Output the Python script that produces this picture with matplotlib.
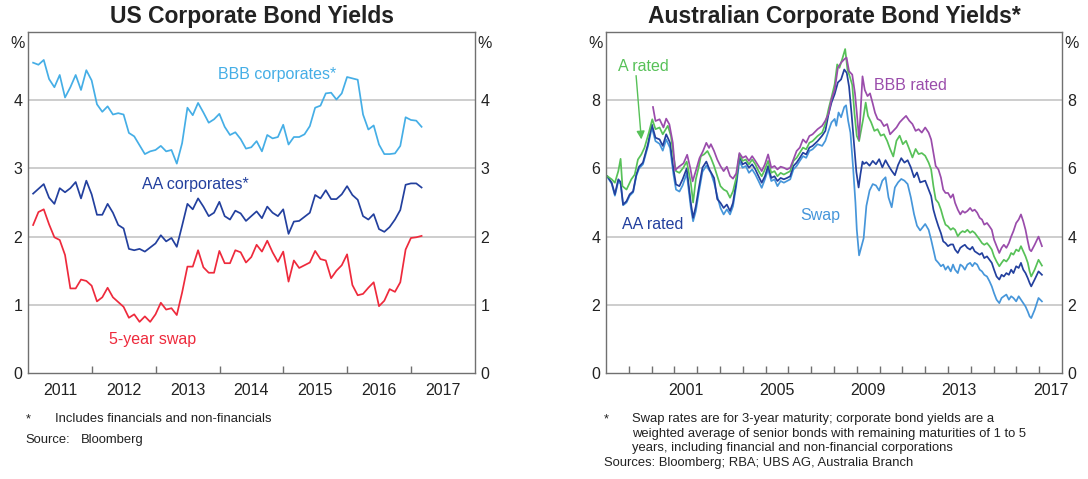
import numpy as np
import matplotlib
matplotlib.use("Agg")
import matplotlib.pyplot as plt

plt.rcParams['font.family'] = ['Liberation Sans', 'DejaVu Sans']

# ---------------- US panel (monthly, from ~Feb 2011) ----------------
us_first_month = 2011.08
us_bbb = [4.55, 4.52, 4.59, 4.31, 4.19, 4.37, 4.04, 4.19, 4.37, 4.15,
          4.44, 4.29, 3.94, 3.83, 3.91, 3.79, 3.81, 3.79, 3.52, 3.47,
          3.34, 3.21, 3.25, 3.27, 3.33, 3.25, 3.27, 3.07, 3.37, 3.89,
          3.78, 3.96, 3.82, 3.67, 3.72, 3.80, 3.61, 3.49, 3.53, 3.43,
          3.29, 3.31, 3.40, 3.25, 3.49, 3.44, 3.46, 3.64, 3.35, 3.46,
          3.46, 3.50, 3.62, 3.89, 3.92, 4.10, 4.11, 4.01, 4.10, 4.34,
          4.32, 4.30, 3.79, 3.57, 3.63, 3.35, 3.21, 3.21, 3.22, 3.33,
          3.75, 3.71, 3.70, 3.61]
us_aa = [2.63, 2.70, 2.77, 2.57, 2.48, 2.71, 2.65, 2.71, 2.80, 2.56,
         2.82, 2.62, 2.32, 2.32, 2.48, 2.35, 2.17, 2.12, 1.82, 1.80,
         1.82, 1.78, 1.84, 1.90, 2.02, 1.93, 1.98, 1.85, 2.16, 2.48,
         2.40, 2.56, 2.44, 2.30, 2.35, 2.51, 2.30, 2.25, 2.38, 2.34,
         2.23, 2.30, 2.37, 2.27, 2.44, 2.35, 2.30, 2.40, 2.04, 2.22,
         2.23, 2.29, 2.35, 2.61, 2.56, 2.68, 2.55, 2.55, 2.62, 2.74,
         2.61, 2.54, 2.30, 2.25, 2.33, 2.11, 2.07, 2.14, 2.25, 2.39,
         2.76, 2.78, 2.78, 2.72]
us_swap = [2.17, 2.36, 2.40, 2.18, 1.99, 1.95, 1.73, 1.24, 1.24, 1.37,
           1.35, 1.28, 1.05, 1.11, 1.25, 1.11, 1.04, 0.97, 0.81, 0.86,
           0.75, 0.83, 0.75, 0.86, 1.03, 0.93, 0.95, 0.85, 1.18, 1.56,
           1.56, 1.80, 1.55, 1.47, 1.47, 1.79, 1.61, 1.61, 1.80, 1.77,
           1.62, 1.70, 1.88, 1.78, 1.94, 1.77, 1.63, 1.78, 1.34, 1.65,
           1.54, 1.58, 1.62, 1.79, 1.67, 1.65, 1.39, 1.50, 1.58, 1.74,
           1.29, 1.14, 1.16, 1.25, 1.33, 0.98, 1.06, 1.23, 1.19, 1.33,
           1.81, 1.98, 1.99, 2.01]
us_years = us_first_month + np.arange(len(us_bbb)) / 12.0

# ---------------- Australian panel ----------------
au_late_years = [2012.15, 2012.26, 2012.36, 2012.46, 2012.58, 2012.69, 2012.79, 2012.89,
                 2013.00, 2013.12, 2013.22, 2013.31, 2013.43, 2013.54, 2013.64, 2013.74,
                 2013.85, 2013.97, 2014.07, 2014.17, 2014.28, 2014.39, 2014.49, 2014.59,
                 2014.71, 2014.82, 2014.92, 2015.02, 2015.13, 2015.25, 2015.35, 2015.45,
                 2015.56, 2015.67, 2015.77, 2015.87, 2015.99, 2016.10, 2016.20, 2016.30,
                 2016.40, 2016.50, 2016.58, 2016.65, 2016.80, 2016.97, 2017.12]
au_mid_years = [2002.60, 2002.74, 2002.88, 2003.02, 2003.16, 2003.30, 2003.44, 2003.57,
                2003.71, 2003.85, 2003.99, 2004.13, 2004.27, 2004.41, 2004.55, 2004.69,
                2004.83, 2004.97, 2005.11, 2005.25, 2005.39, 2005.52, 2005.66, 2005.80,
                2005.94, 2006.08, 2006.22, 2006.36, 2006.50, 2006.64, 2006.78, 2006.92,
                2007.06, 2007.28]

# AA rated
au_aa_years = ([1998.06, 1998.25, 1998.39, 1998.54, 1998.64, 1998.75, 1998.90, 1999.04,
                1999.19, 1999.33, 1999.45, 1999.62, 1999.84, 2000.01, 2000.17, 2000.35,
                2000.49, 2000.64, 2000.81, 2000.96, 2001.07, 2001.22, 2001.36, 2001.54,
                2001.72, 2001.82, 2001.94, 2002.06, 2002.23, 2002.40, 2002.55]
               + au_mid_years[1:]
               + [2007.48, 2007.62, 2007.76, 2007.89, 2008.03, 2008.17, 2008.31, 2008.45,
                  2008.56, 2008.66, 2008.77, 2008.87, 2008.98, 2009.08, 2009.16, 2009.25,
                  2009.31, 2009.42, 2009.56, 2009.70, 2009.84, 2009.98, 2010.12, 2010.26,
                  2010.39, 2010.53, 2010.67, 2010.81, 2010.95, 2011.09, 2011.23, 2011.37,
                  2011.51, 2011.64, 2011.78, 2012.00]
               + au_late_years)
au_aa = ([5.77, 5.58, 5.24, 5.68, 5.60, 4.94, 5.04, 5.24, 5.33, 5.82, 6.05, 6.17, 6.71,
          7.29, 6.90, 6.85, 6.66, 7.00, 6.75, 5.97, 5.53, 5.48, 5.68, 6.00, 4.99, 4.55,
          4.89, 5.38, 6.02, 6.20, 5.95]
         + [5.72, 5.10, 4.99, 4.84, 4.94, 4.75, 4.99, 5.58, 6.36, 6.12, 6.17, 6.02, 6.12,
            5.97, 5.77, 5.58, 5.77, 6.07, 5.72, 5.77, 5.63, 5.72, 5.68, 5.72, 5.77, 6.07,
            6.17, 6.31, 6.46, 6.41, 6.61, 6.66, 6.80]
         + [6.96, 7.10, 7.59, 7.93, 8.18, 8.52, 8.61, 8.90, 8.80, 8.40, 7.60, 6.80, 5.90,
            5.44, 5.83, 6.20, 6.13, 6.18, 6.08, 6.22, 6.12, 6.27, 6.03, 6.24, 6.08, 5.93,
            5.80, 6.10, 6.30, 6.17, 6.24, 6.03, 5.74, 5.88, 5.59, 5.64]
         + [5.38, 5.19, 4.79, 4.55, 4.30, 4.10, 3.86, 3.81, 3.72, 3.77, 3.77, 3.62, 3.52,
            3.67, 3.72, 3.76, 3.67, 3.62, 3.70, 3.57, 3.52, 3.47, 3.52, 3.37, 3.42, 3.32,
            3.23, 3.03, 2.83, 2.74, 2.88, 2.83, 2.93, 2.88, 3.03, 2.93, 3.13, 3.08, 3.23,
            3.03, 2.93, 2.78, 2.64, 2.54, 2.74, 2.98, 2.88])

# A rated
au_a_years = ([1998.06, 1998.25, 1998.39, 1998.54, 1998.64, 1998.72, 1998.90, 1999.11,
               1999.26, 1999.40, 1999.55, 1999.69, 1999.88, 2000.03, 2000.17, 2000.35,
               2000.49, 2000.71, 2000.85, 2000.96, 2001.07, 2001.22, 2001.39, 2001.54,
               2001.72, 2001.82, 2001.94, 2002.06, 2002.16, 2002.30, 2002.45]
              + au_mid_years
              + [2007.48, 2007.62, 2007.76, 2007.89, 2008.03, 2008.14, 2008.24, 2008.38,
                 2008.49, 2008.59, 2008.69, 2008.80, 2008.90, 2009.00, 2009.10, 2009.28,
                 2009.39, 2009.49, 2009.63, 2009.77, 2009.91, 2010.05, 2010.19, 2010.33,
                 2010.46, 2010.60, 2010.74, 2010.88, 2011.02, 2011.16, 2011.30, 2011.44,
                 2011.58, 2011.71, 2011.85, 2012.00]
              + au_late_years)
au_a = ([5.77, 5.68, 5.58, 5.92, 6.28, 5.48, 5.38, 5.68, 5.82, 6.26, 6.41, 6.61, 7.05,
         7.44, 7.15, 7.20, 7.00, 7.25, 6.95, 6.36, 5.92, 5.87, 6.02, 6.20, 5.58, 5.00,
         5.68, 6.02, 6.36, 6.41, 6.51]
        + [6.31, 6.07, 5.77, 5.48, 5.38, 5.33, 5.14, 5.33, 5.72, 6.41, 6.22, 6.26, 6.12,
           6.26, 6.12, 5.92, 5.77, 5.97, 6.22, 5.87, 5.92, 5.77, 5.87, 5.82, 5.87, 5.92,
           6.22, 6.31, 6.46, 6.61, 6.56, 6.75, 6.80, 6.95]
        + [7.05, 7.30, 7.74, 8.08, 8.47, 9.05, 8.95, 9.25, 9.50, 8.90, 8.70, 8.45, 7.60,
           6.95, 6.80, 7.45, 7.93, 7.54, 7.35, 7.10, 7.15, 6.96, 7.00, 6.81, 6.57, 6.35,
           6.81, 6.96, 6.71, 6.81, 6.57, 6.32, 6.57, 6.42, 6.45, 6.37]
        + [6.17, 5.97, 5.48, 5.09, 4.99, 4.79, 4.55, 4.35, 4.30, 4.20, 4.25, 4.20, 4.01,
           4.11, 4.16, 4.13, 4.20, 4.11, 4.16, 4.11, 4.01, 3.91, 3.81, 3.76, 3.81, 3.72,
           3.62, 3.42, 3.27, 3.13, 3.23, 3.32, 3.27, 3.37, 3.52, 3.47, 3.62, 3.57, 3.72,
           3.57, 3.42, 3.23, 2.98, 2.83, 3.03, 3.32, 3.15])

# BBB rated
au_bbb_years = ([2000.06, 2000.17, 2000.35, 2000.52, 2000.64, 2000.78, 2000.93, 2001.03,
                 2001.20, 2001.40, 2001.56, 2001.70, 2001.80, 2001.95, 2002.10, 2002.25,
                 2002.40, 2002.52]
                + au_mid_years
                + [2007.48, 2007.62, 2007.76, 2007.89, 2008.03, 2008.17, 2008.31, 2008.45,
                   2008.55, 2008.66, 2008.80, 2008.92, 2009.00, 2009.10, 2009.25, 2009.35,
                   2009.47, 2009.58, 2009.70, 2009.80, 2009.91, 2010.05, 2010.19, 2010.33,
                   2010.46, 2010.60, 2010.74, 2010.88, 2011.02, 2011.16, 2011.30, 2011.44,
                   2011.58, 2011.71, 2011.85, 2012.00]
                + au_late_years)
au_bbb = ([7.80, 7.39, 7.44, 7.20, 7.46, 7.29, 6.75, 5.95, 6.05, 6.15, 6.40, 6.00, 5.62,
           5.95, 6.30, 6.50, 6.75, 6.60]
          + [6.71, 6.51, 6.26, 6.07, 5.92, 6.05, 5.78, 5.70, 5.85, 6.45, 6.31, 6.36, 6.22,
             6.36, 6.22, 6.07, 5.92, 6.12, 6.41, 6.02, 6.07, 5.97, 6.05, 6.02, 5.97, 6.02,
             6.26, 6.51, 6.61, 6.85, 6.75, 6.95, 7.00, 7.15]
          + [7.25, 7.40, 7.60, 8.03, 8.30, 8.95, 9.10, 9.20, 9.25, 8.85, 8.75, 8.20, 7.63,
             6.85, 8.70, 8.30, 8.12, 8.20, 7.90, 7.63, 7.45, 7.40, 7.24, 7.30, 7.00, 7.10,
             7.20, 7.35, 7.45, 7.54, 7.40, 7.30, 7.10, 7.15, 7.05, 7.20]
          + [7.05, 6.85, 6.46, 6.07, 5.97, 5.73, 5.38, 5.28, 5.28, 5.14, 5.24, 4.99, 4.79,
             4.65, 4.75, 4.70, 4.75, 4.84, 4.75, 4.79, 4.70, 4.55, 4.50, 4.35, 4.40, 4.30,
             4.20, 3.91, 3.72, 3.52, 3.67, 3.76, 3.67, 3.81, 4.00, 4.16, 4.40, 4.50, 4.65,
             4.45, 4.20, 3.86, 3.62, 3.57, 3.76, 4.00, 3.72])

# 3-year swap
au_swap_years = ([1998.06, 1998.25, 1998.39, 1998.54, 1998.64, 1998.75, 1998.90, 1999.04,
                  1999.19, 1999.33, 1999.45, 1999.62, 1999.84, 2000.01, 2000.17, 2000.35,
                  2000.49, 2000.64, 2000.81, 2000.96, 2001.07, 2001.22, 2001.36, 2001.54,
                  2001.72, 2001.82, 2001.94, 2002.06, 2002.23, 2002.40]
                 + au_mid_years
                 + [2007.48, 2007.62, 2007.76, 2007.89, 2008.03, 2008.10, 2008.20, 2008.31,
                    2008.45, 2008.53, 2008.62, 2008.72, 2008.84, 2008.94, 2009.00, 2009.10,
                    2009.20, 2009.30, 2009.42, 2009.56, 2009.70, 2009.84, 2009.98, 2010.12,
                    2010.26, 2010.39, 2010.53, 2010.67, 2010.81, 2010.95, 2011.09, 2011.23,
                    2011.37, 2011.51, 2011.64, 2011.78, 2012.00]
                 + au_late_years)
au_swap = ([5.75, 5.55, 5.20, 5.62, 5.55, 4.92, 5.00, 5.20, 5.30, 5.78, 6.00, 6.12, 6.65,
            7.20, 6.80, 6.72, 6.52, 6.85, 6.60, 5.82, 5.38, 5.32, 5.50, 5.85, 4.85, 4.45,
            4.75, 5.25, 5.90, 6.08]
           + [5.87, 5.58, 5.19, 4.84, 4.65, 4.80, 4.65, 4.89, 5.48, 6.22, 6.02, 6.07, 5.87,
              5.97, 5.82, 5.63, 5.43, 5.68, 5.97, 5.63, 5.68, 5.48, 5.63, 5.58, 5.63, 5.68,
              5.97, 6.07, 6.22, 6.36, 6.31, 6.51, 6.56, 6.71]
           + [6.66, 6.81, 7.10, 7.35, 7.45, 7.25, 7.64, 7.50, 7.80, 7.85, 7.40, 7.05, 6.00,
              5.00, 4.20, 3.45, 3.70, 3.95, 4.90, 5.35, 5.54, 5.50, 5.35, 5.64, 5.74, 5.15,
              4.86, 5.44, 5.59, 5.69, 5.64, 5.54, 5.15, 4.66, 4.32, 4.18, 4.37]
           + [4.20, 3.91, 3.62, 3.32, 3.23, 3.13, 3.18, 3.03, 3.13, 2.98, 3.18, 3.03, 2.93,
              3.18, 3.13, 3.03, 3.18, 3.23, 3.13, 3.23, 3.18, 3.03, 2.98, 2.88, 2.83, 2.69,
              2.54, 2.34, 2.15, 2.05, 2.20, 2.25, 2.30, 2.15, 2.25, 2.20, 2.10, 2.25, 2.15,
              2.05, 1.95, 1.80, 1.66, 1.61, 1.85, 2.20, 2.10])

# axis/tick content
us_yticks = [0, 1, 2, 3, 4]
us_year_labels = ['2011', '2012', '2013', '2014', '2015', '2016', '2017']
au_yticks = [0, 2, 4, 6, 8]
au_year_labels = ['2001', '2005', '2009', '2013', '2017']

# ---------------- styling ----------------
C_BBB_US = '#45aee6'
C_AA = '#23409e'
C_RED = '#ee2a3c'
C_GREEN = '#57c158'
C_PURPLE = '#9a4cab'
C_SWAP_AU = '#4696da'
GRID = '#c9c9c9'
SPINE = '#707070'
TXT = '#222222'

W, H = 1088, 479
fig = plt.figure(figsize=(W / 100, H / 100), dpi=100)

def px_box(x0, x1, ytop, ybot):
    return [x0 / W, (H - ybot) / H, (x1 - x0) / W, (ybot - ytop) / H]

axL = fig.add_axes(px_box(28, 475, 32, 373))
axR = fig.add_axes(px_box(606, 1062, 32, 373))

def style(ax, yticks, ymax, xmin, xmax, major_x, label_x, labels):
    ax.set_xlim(xmin, xmax)
    ax.set_ylim(0, ymax)
    for s in ax.spines.values():
        s.set_color(SPINE)
        s.set_linewidth(1.0)
    ax.set_yticks(yticks)
    ax.set_yticklabels([str(v) for v in yticks])
    ax.tick_params(axis='y', length=0, labelsize=11.5, labelcolor=TXT,
                   labelleft=True, labelright=True, pad=4)
    for v in yticks[1:]:
        ax.axhline(v, color=GRID, lw=1.3, zorder=0)
    ax.set_xticks(major_x)
    ax.set_xticklabels([])
    ax.set_xticks(label_x, minor=True)
    ax.set_xticklabels(labels, minor=True)
    ax.tick_params(axis='x', which='major', direction='in', length=5,
                   color=SPINE, width=1.0)
    ax.tick_params(axis='x', which='minor', length=0, labelsize=11.5,
                   labelcolor=TXT, pad=7)
    for xa in (0, 1):
        off = -10 if xa == 0 else 10
        ax.annotate('%', xy=(xa, 1), xycoords='axes fraction',
                    xytext=(off, -11), textcoords='offset pixels',
                    ha='center', va='center', fontsize=11.5, color=TXT)

style(axL, us_yticks, 5, 2011, 2018, list(range(2012, 2018)),
      [y + 0.5 for y in range(2011, 2018)], us_year_labels)
style(axR, au_yticks, 10, 1998, 2018, list(range(1999, 2018)),
      [int(s) + 0.5 for s in au_year_labels], au_year_labels)

# ---------------- US lines ----------------
lw = 1.25
axL.plot(us_years, us_bbb, color=C_BBB_US, lw=lw)
axL.plot(us_years, us_aa, color=C_AA, lw=lw)
axL.plot(us_years, us_swap, color=C_RED, lw=lw)
axL.text(2014.9, 4.38, 'BBB corporates*', color=C_BBB_US, fontsize=11.5,
         ha='center', va='center')
axL.text(2013.62, 2.76, 'AA corporates*', color=C_AA, fontsize=11.5,
         ha='center', va='center')
axL.text(2012.95, 0.49, '5-year swap', color=C_RED, fontsize=11.5,
         ha='center', va='center')

# ---------------- AU lines ----------------
axR.plot(au_swap_years, au_swap, color=C_SWAP_AU, lw=lw)
axR.plot(au_aa_years, au_aa, color=C_AA, lw=lw)
axR.plot(au_a_years, au_a, color=C_GREEN, lw=lw)
axR.plot(au_bbb_years, au_bbb, color=C_PURPLE, lw=lw)
axR.text(1999.62, 9.0, 'A rated', color=C_GREEN, fontsize=11.5,
         ha='center', va='center')
axR.annotate('', xy=(1999.55, 6.85), xytext=(1999.32, 8.72),
             arrowprops=dict(arrowstyle='-|>', color=C_GREEN, lw=1.0,
                             mutation_scale=12, shrinkA=0, shrinkB=0))
axR.text(2011.35, 8.44, 'BBB rated', color=C_PURPLE, fontsize=11.5,
         ha='center', va='center')
axR.text(2000.05, 4.35, 'AA rated', color=C_AA, fontsize=11.5,
         ha='center', va='center')
axR.text(2007.4, 4.62, 'Swap', color=C_SWAP_AU, fontsize=11.5,
         ha='center', va='center')

# ---------------- titles ----------------
def fy(py):
    return 1 - py / H

fig.text((28 + 475) / 2 / W, fy(17), 'US Corporate Bond Yields', ha='center',
         va='center', fontsize=16.5, fontweight='bold', color=TXT)
fig.text((606 + 1062) / 2 / W, fy(17), 'Australian Corporate Bond Yields*',
         ha='center', va='center', fontsize=16.5, fontweight='bold', color=TXT)

# ---------------- footnotes ----------------
fs = 9.4
fig.text(26 / W, fy(419), '*', fontsize=fs, color=TXT, va='center')
fig.text(55 / W, fy(419), 'Includes financials and non-financials', fontsize=fs,
         color=TXT, va='center')
fig.text(25 / W, fy(440), 'Source:', fontsize=fs, color=TXT, va='center')
fig.text(81 / W, fy(440), 'Bloomberg', fontsize=fs, color=TXT, va='center')

fig.text(604 / W, fy(419), '*', fontsize=fs, color=TXT, va='center')
fig.text(632 / W, fy(419), 'Swap rates are for 3-year maturity; corporate bond yields are a',
         fontsize=fs, color=TXT, va='center')
fig.text(632 / W, fy(434), 'weighted average of senior bonds with remaining maturities of 1 to 5',
         fontsize=fs, color=TXT, va='center')
fig.text(632 / W, fy(448), 'years, including financial and non-financial corporations',
         fontsize=fs, color=TXT, va='center')
fig.text(604 / W, fy(463), 'Sources: Bloomberg; RBA; UBS AG, Australia Branch',
         fontsize=fs, color=TXT, va='center')

fig.savefig('out.png', dpi=100)
